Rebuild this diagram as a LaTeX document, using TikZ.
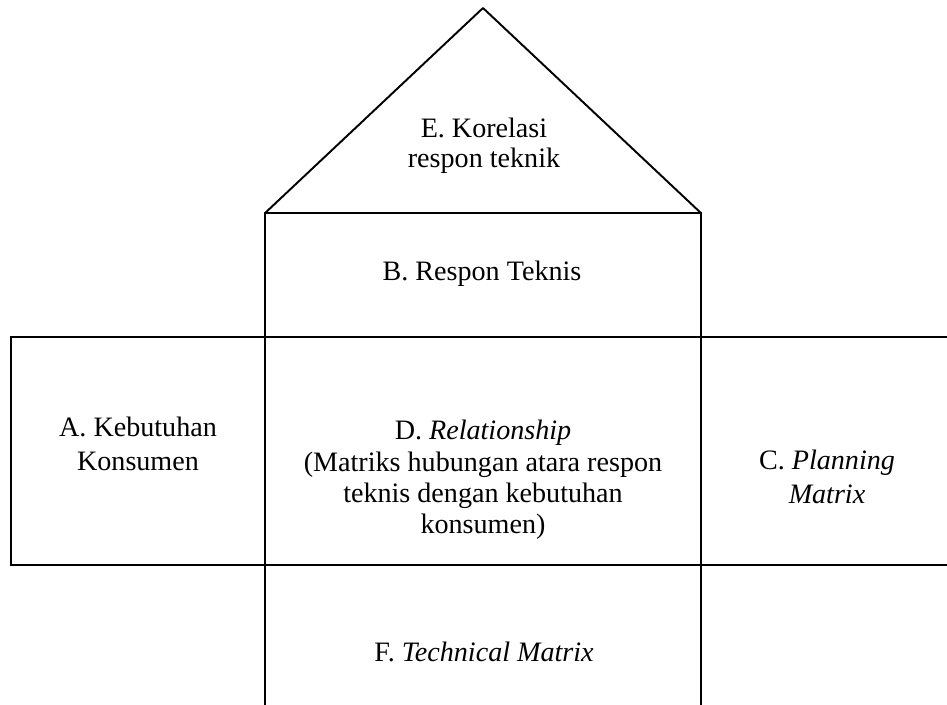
\documentclass[tikz,border=0pt]{standalone}
\usepackage{fontspec}
\setmainfont{Liberation Serif}
\usetikzlibrary{positioning}

\begin{document}
\begin{tikzpicture}[x=0.02cm,y=-0.02cm,line width=1.1pt,node distance=0pt]
	\tikzstyle{box}=[draw,rectangle,inner sep=0pt,outer sep=0pt,minimum height=4.56cm]
	\tikzstyle{lbl}=[align=center,inner sep=0pt,font=\fontsize{16}{17.9}\selectfont]

	\clip (0,0) rectangle (947,704);

	\node[box,minimum width=8.72cm] (D) at (483,451) {};
	\node[box,minimum width=5.08cm] (A) [left = of D] {};
	\node[box,minimum width=5.04cm] (C) [right = of D] {};
	\node[box,minimum width=8.72cm,minimum height=2.48cm] (B) [above = of D] {};
	\node[box,minimum width=8.72cm,minimum height=3cm] (F) [below = of D] {};
	\coordinate (R) at (483,8);

	% atap rumah
	\draw[line join=round] (B.north west) -- (R) -- (B.north east);

	\node[lbl,font=\fontsize{16}{17}\selectfont] (tE) at (484,145.5) {E. Korelasi\\respon teknik};
	\node[lbl] (tB) at (482,273.5) {B. Respon Teknis};
	\node[lbl,font=\fontsize{16}{19.3}\selectfont] (tA) at (138,444) {A. Kebutuhan\\Konsumen};
	\node[lbl] (tD) at (483,480) {D. \textit{Relationship}\\(Matriks hubungan atara respon\\teknis dengan kebutuhan\\konsumen)};
	\node[lbl,font=\fontsize{16}{19.3}\selectfont] (tC) at (827,476.5) {C. \textit{Planning}\\\textit{Matrix}};
	\node[lbl] (tF) at (484,652) {F. \textit{Technical Matrix}};
\end{tikzpicture}
\end{document}
